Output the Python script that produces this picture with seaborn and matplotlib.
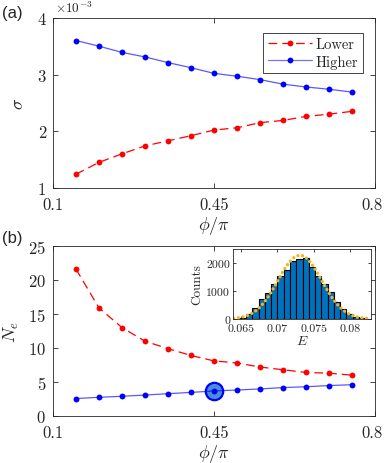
import numpy as np
import pandas as pd
import matplotlib
matplotlib.use('Agg')
import matplotlib.pyplot as plt
import matplotlib.transforms as mtransforms
from matplotlib.lines import Line2D
import seaborn as sns

# x positions (phi / pi)
phi = [0.15, 0.20, 0.25, 0.30, 0.35, 0.40, 0.45, 0.50, 0.55, 0.60, 0.65, 0.70, 0.75]

# panel (a): sigma
sigma_lower = [1.24e-3, 1.45e-3, 1.60e-3, 1.74e-3, 1.83e-3, 1.92e-3, 2.02e-3,
               2.06e-3, 2.15e-3, 2.19e-3, 2.26e-3, 2.30e-3, 2.35e-3]
sigma_higher = [3.60e-3, 3.50e-3, 3.39e-3, 3.31e-3, 3.21e-3, 3.12e-3, 3.02e-3,
                2.97e-3, 2.91e-3, 2.83e-3, 2.78e-3, 2.74e-3, 2.69e-3]
sigma_ticks = [1e-3, 2e-3, 3e-3, 4e-3]
sigma_ticklabels = ['1', '2', '3', '4']

# panel (b): N_e
ne_lower = [21.6, 15.9, 13.0, 11.0, 9.9, 8.9, 8.1, 7.8, 7.2, 6.8, 6.4, 6.3, 6.0]
ne_higher = [2.57, 2.75, 2.90, 3.08, 3.28, 3.47, 3.68, 3.82, 3.98, 4.18, 4.30, 4.48, 4.60]
highlight_phi = 0.45
highlight_ne = 3.68

# inset histogram (bin centres and counts)
bin_width = 0.000863
bin_centers = [0.06527, 0.06613, 0.06700, 0.06786, 0.06872, 0.06959, 0.07045,
               0.07131, 0.07218, 0.07304, 0.07390, 0.07476, 0.07563, 0.07649,
               0.07735, 0.07822, 0.07908, 0.07994, 0.08081, 0.08167]
bin_counts = [40, 180, 410, 700, 940, 1265, 1530, 1750, 2070, 2160,
              2170, 1870, 1530, 1265, 965, 600, 360, 180, 80, 25]

# inset fitted curve (orange dotted)
fit_e = [0.0640, 0.0645, 0.0650, 0.0655, 0.0660, 0.0665, 0.0670, 0.0675, 0.0680,
         0.0685, 0.0690, 0.0695, 0.0700, 0.0705, 0.0710, 0.0715, 0.0720, 0.0725,
         0.0730, 0.0735, 0.0740, 0.0745, 0.0750, 0.0755, 0.0760, 0.0765, 0.0770,
         0.0775, 0.0780, 0.0785, 0.0790, 0.0795, 0.0800, 0.0805, 0.0810, 0.0815,
         0.0820, 0.0825]
fit_counts = [23, 37, 60, 92, 138, 203, 289, 399, 537, 704, 896, 1110, 1337, 1566,
              1785, 1978, 2132, 2235, 2279, 2260, 2180, 2044, 1866, 1655, 1429, 1200,
              979, 777, 601, 451, 330, 234, 162, 109, 71, 45, 28, 17]

sns.set_theme(style='ticks')
plt.rcParams['font.family'] = 'serif'
plt.rcParams['font.serif'] = ['cmr10']
plt.rcParams['mathtext.fontset'] = 'cm'
plt.rcParams['axes.formatter.use_mathtext'] = True

RED = '#ff0000'
BLUE = '#0000ff'


def style_axes(ax, labelsize=12, ticklen=3.5, xpad=6.5, ypad=5):
    for sp in ax.spines.values():
        sp.set_color('#262626')
        sp.set_linewidth(0.6)
    ax.tick_params(direction='in', top=True, right=True, length=ticklen,
                   width=0.6, color='#262626', labelsize=labelsize)
    ax.tick_params(axis='x', pad=xpad)
    ax.tick_params(axis='y', pad=ypad)


def draw_main(ax, lower, higher):
    sns.lineplot(x=phi, y=lower, ax=ax, color=RED, lw=0.9,
                 marker='o', markersize=4.2, markeredgewidth=0, dashes=(7, 4))
    sns.lineplot(x=phi, y=higher, ax=ax, color=BLUE, lw=0.9, alpha=0.65)
    sns.scatterplot(x=phi, y=higher, ax=ax, color=BLUE, s=18, linewidth=0, zorder=3)
    ax.set_xlim(0.1, 0.8)
    ax.set_xticks([0.1, 0.45, 0.8])
    ax.set_xticklabels(['0.1', '0.45', '0.8'])
    ax.set_xlabel(r'$\phi/\pi$', fontsize=13, labelpad=1)
    style_axes(ax)
    # keep the last tick label inside the figure
    last = ax.get_xticklabels()[-1]
    last.set_transform(last.get_transform() +
                       mtransforms.ScaledTranslation(-3 / 100, 0, fig.dpi_scale_trans))


fig = plt.figure(figsize=(3.84, 4.64), dpi=100)
ax_a = fig.add_axes([0.138, 0.593, 0.8385, 0.3664])
ax_b = fig.add_axes([0.138, 0.1013, 0.8385, 0.3664])
ax_in = fig.add_axes([0.6068, 0.3103, 0.3594, 0.1509])

# panel (a)
draw_main(ax_a, sigma_lower, sigma_higher)
ax_a.set_ylim(1e-3, 4e-3)
ax_a.set_yticks(sigma_ticks)
ax_a.set_yticklabels(sigma_ticklabels)
ax_a.set_ylabel(r'$\sigma$', fontsize=13, labelpad=8)
fig.text(0.142, 0.998, r'$\times 10^{-3}$', fontsize=9.5, ha='left', va='top',
         family='DejaVu Sans')
handles = [
    Line2D([0], [0], color=RED, lw=0.9, dashes=(7, 4), marker='o',
           markersize=4.2, markeredgewidth=0),
    Line2D([0], [0], color=(0.45, 0.45, 1.0), lw=0.9, marker='o',
           markersize=4.2, markerfacecolor=BLUE, markeredgewidth=0),
]
leg = ax_a.legend(handles, ['Lower', 'Higher'], loc='upper right',
                  bbox_to_anchor=(0.985, 0.955), fontsize=10.5, handlelength=3.0,
                  handletextpad=0.3, borderpad=0.3, labelspacing=0.25,
                  fancybox=False, framealpha=1, edgecolor='#262626')
leg.get_frame().set_linewidth(0.6)

# panel (b)
ax_b.plot([highlight_phi], [highlight_ne], 'o', markersize=12.5,
          markerfacecolor='#4a8fd6', markeredgecolor=BLUE, markeredgewidth=1.6,
          zorder=1)
draw_main(ax_b, ne_lower, ne_higher)
ax_b.set_ylim(0, 25)
ax_b.set_yticks([0, 5, 10, 15, 20, 25])
ax_b.set_ylabel(r'$N_e$', fontsize=13, labelpad=5)

# inset
edges = [c - bin_width / 2 for c in bin_centers] + [bin_centers[-1] + bin_width / 2]
sns.histplot(x=bin_centers, weights=bin_counts, bins=edges, ax=ax_in,
             color='#0072bd', alpha=1, edgecolor='black', linewidth=0.8)
sns.lineplot(x=fit_e, y=fit_counts, ax=ax_in, color='#f7b21e', lw=2.4,
             linestyle=(0, (0.01, 1.4)), dash_capstyle='round')
ax_in.set_xlim(0.0639, 0.0829)
ax_in.set_ylim(0, 2500)
ax_in.set_xticks([0.065, 0.07, 0.075, 0.08])
ax_in.set_xticklabels(['0.065', '0.07', '0.075', '0.08'])
ax_in.set_yticks([0, 1000, 2000])
ax_in.set_yticklabels(['0', '1000', '2000'])
ax_in.set_xlabel(r'$E$', fontsize=10, labelpad=1)
ax_in.set_ylabel('Counts', fontsize=9.5, labelpad=2)
style_axes(ax_in, labelsize=8.5, ticklen=2.5, xpad=3, ypad=2)

fig.text(0.005, 0.97, '(a)', fontsize=12, family='Liberation Sans', va='center')
fig.text(0.005, 0.485, '(b)', fontsize=12, family='Liberation Sans', va='center')

fig.savefig('out.png', dpi=100)
